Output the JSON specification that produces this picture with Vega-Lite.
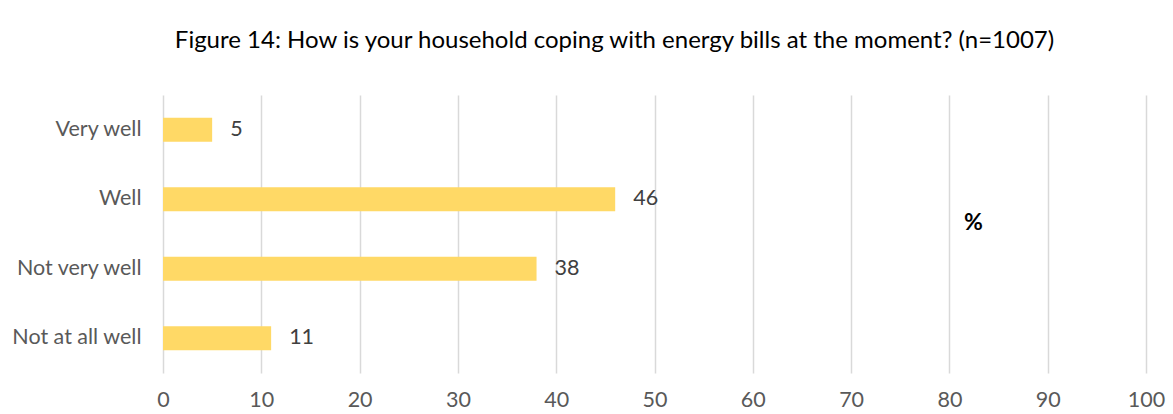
{
  "$schema": "https://vega.github.io/schema/vega-lite/v6.json",
  "autosize": {"type": "none"},
  "width": 983,
  "height": 278,
  "padding": {"left": 163, "top": 95, "right": 27, "bottom": 41},
  "background": "white",
  "title": {
    "text": "Figure 14: How is your household coping with energy bills at the moment? (n=1007)",
    "font": "Lato",
    "fontSize": 24,
    "fontWeight": "normal",
    "color": "#000000",
    "anchor": "middle",
    "dx": -40,
    "offset": 42
  },
  "data": {
    "values": [
      {"response": "Very well", "percent": 5},
      {"response": "Well", "percent": 46},
      {"response": "Not very well", "percent": 38},
      {"response": "Not at all well", "percent": 11}
    ]
  },
  "encoding": {
    "y": {
      "field": "response",
      "type": "nominal",
      "sort": ["Very well", "Well", "Not very well", "Not at all well"],
      "axis": {
        "title": null,
        "domain": false,
        "ticks": false,
        "labelFont": "Lato",
        "labelFontSize": 21.5,
        "labelColor": "#595959",
        "labelPadding": 22
      }
    },
    "x": {
      "field": "percent",
      "type": "quantitative",
      "scale": {"domain": [0, 100]},
      "axis": {
        "title": "%",
        "titleFont": "Lato",
        "titleFontSize": 23,
        "titleFontWeight": "bold",
        "titleColor": "#000000",
        "titleX": 810,
        "titleY": -162,
        "titleAnchor": "middle",
        "values": [0, 10, 20, 30, 40, 50, 60, 70, 80, 90, 100],
        "domain": false,
        "ticks": false,
        "grid": true,
        "gridColor": "#d9d9d9",
        "gridWidth": 1.5,
        "labelFont": "Lato",
        "labelFontSize": 21.5,
        "labelColor": "#595959",
        "labelPadding": 16,
        "labelFlush": false
      }
    }
  },
  "layer": [
    {"mark": {"type": "bar", "color": "#FFD966", "size": 24}},
    {
      "mark": {"type": "text", "align": "left", "dx": 18, "font": "Lato", "fontSize": 21.5, "color": "#404040"},
      "encoding": {"text": {"field": "percent", "type": "quantitative"}}
    }
  ],
  "config": {"view": {"stroke": null}}
}
